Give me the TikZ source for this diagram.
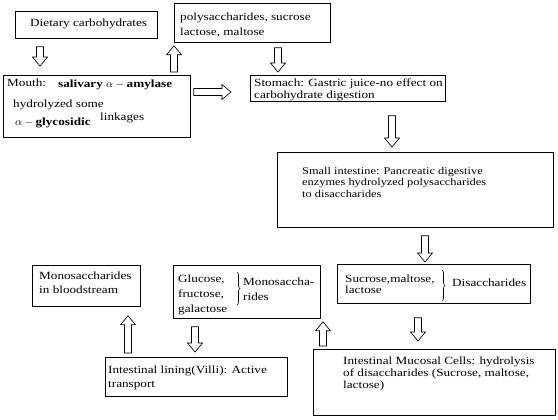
\documentclass[tikz,border=0pt]{standalone}
\usepackage{fontspec}
\setmainfont{Liberation Serif}[FakeStretch=1.2]
\usetikzlibrary{calc,decorations.pathreplacing}

\tikzset{
  box/.style={draw, line width=0.8pt, inner sep=0pt, anchor=north west},
  txt/.style={inner sep=0pt, anchor=base west, align=left, font=\fontsize{11}{11.5}\selectfont},
  loose/.style={font=\fontsize{11}{14.5}\selectfont},
  hollow/.style={draw, line width=0.7pt, fill=white, line join=miter},
  curly/.style={decorate, decoration={brace, amplitude=3pt}, line width=0.6pt},
}

% hollow block arrow from #1 to #2
\newcommand{\blockarrow}[2]{%
  \path #1 coordinate (ba) #2 coordinate (bb);
  \path ($(bb)!9pt!(ba)$) coordinate (bh);
  \draw[hollow] ($(ba)!3.5pt!90:(bb)$) -- ($(bh)!3.5pt!90:(bb)$)
    -- ($(bh)!7.5pt!90:(bb)$) -- (bb) -- ($(bh)!7.5pt!-90:(bb)$)
    -- ($(bh)!3.5pt!-90:(bb)$) -- ($(ba)!3.5pt!-90:(bb)$) -- cycle;
}

\begin{document}
\begin{tikzpicture}[x=1pt, y=-1pt]
    \useasboundingbox (0,0) rectangle (558,420);

    % top row (multi-line labels sit on their last baseline)
    \node[box, minimum width=142pt, minimum height=27pt] (diet) at (15,11) {};
    \node[txt] (dietlbl) at (30,27) {Dietary carbohydrates};
    \node[box, minimum width=156pt, minimum height=39pt] (poly) at (174,3) {};
    \node[txt, loose] (polylbl) at (180,35.5) {polysaccharides, sucrose\\lactose, maltose};

    % mouth
    \node[box, minimum width=187pt, minimum height=62pt] (mouth) at (3,75) {};
    \node[txt] (mouthlbl) at (7,87) {Mouth:};
    \node[txt] (amylase) at (58,88) {\textbf{salivary $\alpha-{}$amylase}};
    \node[txt] (hydro) at (13,108) {hydrolyzed some};
    \node[txt] (glyco) at (15,126) {\textbf{$\alpha-{}$glycosidic}};
    \node[txt] (linkage) at (100,121) {linkages};

    % stomach
    \node[box, minimum width=195pt, minimum height=26pt] (stomach) at (250,75) {};
    \node[txt] (stomachlbl) at (254,98.5) {Stomach: Gastric juice-no effect on\\carbohydrate digestion};

    % small intestine
    \node[box, minimum width=276pt, minimum height=75pt] (small) at (277,152) {};
    \node[txt, font=\fontsize{10.3}{11.5}\selectfont] (smalllbl) at (302,197)
        {Small intestine: Pancreatic digestive\\enzymes hydrolyzed polysaccharides\\to disaccharides};

    % disaccharides
    \node[box, minimum width=193pt, minimum height=39pt] (sucrose) at (337,264) {};
    \node[txt] (sucroselbl) at (345,293.5) {Sucrose,maltose,\\lactose};
    \draw[curly] (442,270) -- (442,301);
    \node[txt] (disacc) at (452,287) {Disaccharides};

    % mucosal cells
    \node[box, minimum width=242pt, minimum height=66pt] (mucosal) at (313,349) {};
    \node[txt, font=\fontsize{11}{12}\selectfont] (mucosallbl) at (343,388)
        {Intestinal Mucosal Cells: hydrolysis\\of disaccharides (Sucrose, maltose,\\lactose)};

    % monosaccharides
    \node[box, minimum width=147pt, minimum height=53pt] (glucose) at (173,265) {};
    \node[txt, loose] (glucoselbl) at (178,312) {Glucose,\\fructose,\\galactose};
    \draw[curly] (237,272) -- (237,305);
    \node[txt, font=\fontsize{11}{15}\selectfont] (monolbl) at (243,300) {Monosaccha-\\rides};

    % villi and bloodstream
    \node[box, minimum width=182pt, minimum height=39pt] (lining) at (105,357) {};
    \node[txt, font=\fontsize{11}{14}\selectfont] (lininglbl) at (108,387) {Intestinal lining(Villi): Active\\transport};
    \node[box, minimum width=108pt, minimum height=41pt] (blood) at (32,265) {};
    \node[txt, font=\fontsize{11}{15}\selectfont] (bloodlbl) at (39,294) {Monosaccharides\\in bloodstream};

    % arrows
    \blockarrow{($(diet.south -| 40,0)+(0,8)$)}{($(mouth.north -| 40,0)+(0,-9)$)}
    \blockarrow{($(mouth.north -| 174,0)+(0,-3)$)}{($(poly.south -| 174,0)+(0,3)$)}
    \blockarrow{($(poly.south -| 278,0)+(0,5)$)}{($(stomach.north -| 278,0)+(0,-3)$)}
    \blockarrow{($(mouth.east |- 0,92)+(3,0)$)}{($(stomach.west |- 0,92)+(-19,0)$)}
    \blockarrow{($(stomach.south -| 392,0)+(0,14)$)}{($(small.north -| 392,0)+(0,-5)$)}
    \blockarrow{($(small.south -| 425,0)+(0,8)$)}{($(sucrose.north -| 425,0)+(0,-2)$)}
    \blockarrow{($(sucrose.south -| 418,0)+(0,14)$)}{($(mucosal.north -| 418,0)+(0,-8)$)}
    \blockarrow{($(mucosal.north -| 323,0)+(0,-3)$)}{($(glucose.south -| 323,0)+(0,3)$)}
    \blockarrow{($(glucose.south -| 195,0)+(0,8)$)}{($(lining.north -| 195,0)+(0,-5)$)}
    \blockarrow{($(lining.north -| 128,0)+(0,-4)$)}{($(blood.south -| 128,0)+(0,9)$)}
\end{tikzpicture}
\end{document}
